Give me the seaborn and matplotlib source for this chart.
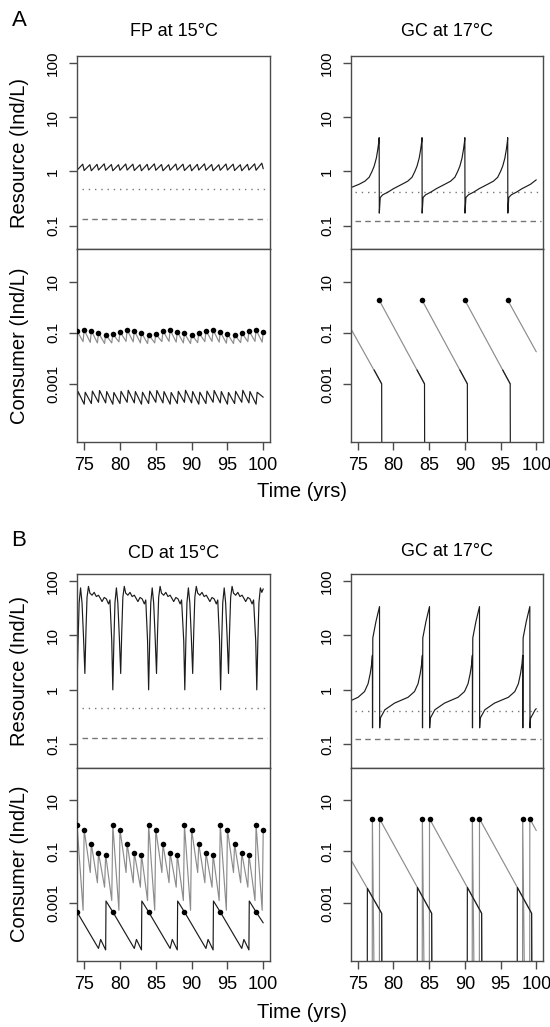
import matplotlib
matplotlib.use("Agg")
import matplotlib.pyplot as plt
from matplotlib.ticker import NullLocator
import pandas as pd
import seaborn as sns

# ======================= DATA =======================
# ---- Panel A, left: FP at 15°C ----
fp_res_t = [74.0, 74.8, 75.0, 75.8, 76.0, 76.8, 77.0, 77.8, 78.0, 78.8, 79.0,
            79.8, 80.0, 80.8, 81.0, 81.8, 82.0, 82.8, 83.0, 83.8, 84.0,
            84.8, 85.0, 85.8, 86.0, 86.8, 87.0, 87.8, 88.0, 88.8, 89.0,
            89.8, 90.0, 90.8, 91.0, 91.8, 92.0, 92.8, 93.0, 93.8, 94.0,
            94.8, 95.0, 95.8, 96.0, 96.8, 97.0, 97.8, 98.0, 98.8, 99.0,
            99.8, 100.0]
fp_res = [1.05, 1.36, 1.04, 1.33, 1.03, 1.35, 1.06, 1.38, 1.05, 1.34, 1.03,
          1.33, 1.05, 1.37, 1.06, 1.36, 1.04, 1.33, 1.03, 1.35, 1.06,
          1.38, 1.05, 1.34, 1.03, 1.33, 1.05, 1.37, 1.06, 1.36, 1.04,
          1.33, 1.03, 1.35, 1.06, 1.38, 1.05, 1.34, 1.03, 1.33, 1.05,
          1.37, 1.06, 1.36, 1.04, 1.33, 1.03, 1.35, 1.06, 1.38, 1.05,
          1.42, 1.12]
fp_dot_t = [74, 75, 76, 77, 78, 79, 80, 81, 82, 83, 84, 85, 86, 87, 88, 89,
            90, 91, 92, 93, 94, 95, 96, 97, 98, 99, 100]
fp_dot = [0.12, 0.13, 0.12, 0.10, 0.085, 0.09, 0.11, 0.13, 0.12, 0.10,
          0.085, 0.09, 0.12, 0.13, 0.11, 0.095, 0.085, 0.10, 0.12, 0.13,
          0.11, 0.09, 0.085, 0.10, 0.12, 0.13, 0.11]
fp_min_t = [74.85, 75.85, 76.85, 77.85, 78.85, 79.85, 80.85, 81.85, 82.85,
            83.85, 84.85, 85.85, 86.85, 87.85, 88.85, 89.85, 90.85, 91.85,
            92.85, 93.85, 94.85, 95.85, 96.85, 97.85, 98.85, 99.85]
fp_min = [0.045, 0.042, 0.040, 0.038, 0.040, 0.044, 0.046, 0.044, 0.040,
          0.038, 0.040, 0.045, 0.046, 0.043, 0.040, 0.038, 0.041, 0.045,
          0.046, 0.043, 0.039, 0.038, 0.041, 0.045, 0.046, 0.043]
fp_blk_t = [74.0, 74.15, 75.0, 75.15, 76.0, 76.15, 77.0, 77.15, 78.0, 78.15,
            79.0, 79.15, 80.0, 80.15, 81.0, 81.15, 82.0, 82.15, 83.0, 83.15,
            84.0, 84.15, 85.0, 85.15, 86.0, 86.15, 87.0, 87.15, 88.0, 88.15,
            89.0, 89.15, 90.0, 90.15, 91.0, 91.15, 92.0, 92.15, 93.0, 93.15,
            94.0, 94.15, 95.0, 95.15, 96.0, 96.15, 97.0, 97.15, 98.0, 98.15,
            99.0, 99.15, 100.0]
fp_blk = [0.00022, 0.00050, 0.00016, 0.00047, 0.00017, 0.00052, 0.00019, 0.00055, 0.00018, 0.00050,
          0.00016, 0.00046, 0.00017, 0.00051, 0.00019, 0.00056, 0.00018, 0.00050, 0.00016, 0.00047,
          0.00017, 0.00052, 0.00019, 0.00055, 0.00018, 0.00050, 0.00016, 0.00046, 0.00017, 0.00051,
          0.00019, 0.00056, 0.00018, 0.00050, 0.00016, 0.00047, 0.00017, 0.00052, 0.00019, 0.00055,
          0.00018, 0.00050, 0.00016, 0.00046, 0.00017, 0.00051, 0.00019, 0.00056, 0.00018, 0.00050,
          0.00016, 0.00047, 0.00030]
fp_thr = [0.47, 0.13]

# ---- Panel A, right: GC at 17°C ----
gcA_res_t = [74.0, 75.2, 76.0, 76.6, 77.0, 77.3, 77.6, 77.8, 77.95, 78.0,
             78.02, 78.15, 78.5, 79.3, 80.0, 81.2, 82.0, 82.6, 83.0, 83.3, 83.6, 83.8, 83.95, 84.0,
             84.02, 84.15, 84.5, 85.3, 86.0, 87.2, 88.0, 88.6, 89.0, 89.3, 89.6, 89.8, 89.95, 90.0,
             90.02, 90.15, 90.5, 91.3, 92.0, 93.2, 94.0, 94.6, 95.0, 95.3, 95.6, 95.8, 95.95, 96.0,
             96.02, 96.15, 96.5, 97.3, 98.0, 99.2, 100.0]
gcA_res = [0.50, 0.58, 0.66, 0.78, 1.0, 1.25, 1.75, 2.5, 3.5, 4.2,
           0.17, 0.33, 0.37, 0.42, 0.48, 0.58, 0.66, 0.78, 1.0, 1.25, 1.75, 2.5, 3.5, 4.2,
           0.17, 0.33, 0.37, 0.42, 0.48, 0.58, 0.66, 0.78, 1.0, 1.25, 1.75, 2.5, 3.5, 4.2,
           0.17, 0.33, 0.37, 0.42, 0.48, 0.58, 0.66, 0.78, 1.0, 1.25, 1.75, 2.5, 3.5, 4.2,
           0.17, 0.33, 0.37, 0.42, 0.48, 0.58, 0.70]
gcA_gray_t = [74.0, 78.35, 78.0, 84.35, 84.0, 90.35, 90.0, 96.35, 96.0, 100.0]
gcA_gray = [0.15, 0.001, 1.9, 0.001, 1.9, 0.001, 1.9, 0.001, 1.9, 0.018]
gcA_gray_seg = [0, 0, 1, 1, 2, 2, 3, 3, 4, 4]
gcA_blk_t = [77.3, 78.35, 78.38, 83.3, 84.35, 84.38, 89.3, 90.35, 90.38, 95.3, 96.35, 96.38]
gcA_blk = [0.0035, 0.001, 1e-7, 0.0035, 0.001, 1e-7, 0.0035, 0.001, 1e-7, 0.0035, 0.001, 1e-7]
gcA_blk_seg = [0, 0, 0, 1, 1, 1, 2, 2, 2, 3, 3, 3]
gcA_dot_t = [78.0, 84.0, 90.0, 96.0]
gcA_dot = [1.9, 1.9, 1.9, 1.9]
gcA_thr = [0.41, 0.123]

# ---- Panel B, left: CD at 15°C ----
cd_res_t = [74.0, 74.15, 74.3, 74.5, 74.7, 74.9, 75.1, 75.25, 75.4, 75.6, 75.8, 76.1, 76.4, 76.7, 77.0, 77.3, 77.5, 77.8, 78.1, 78.4, 78.6, 78.85,
            79.0, 79.15, 79.3, 79.5, 79.7, 79.9, 80.1, 80.25, 80.4, 80.6, 80.8, 81.1, 81.4, 81.7, 82.0, 82.3, 82.5, 82.8, 83.1, 83.4, 83.6, 83.85,
            84.0, 84.15, 84.3, 84.5, 84.7, 84.9, 85.1, 85.25, 85.4, 85.6, 85.8, 86.1, 86.4, 86.7, 87.0, 87.3, 87.5, 87.8, 88.1, 88.4, 88.6, 88.9,
            89.05, 89.2, 89.35, 89.55, 89.75, 89.95, 90.15, 90.3, 90.45, 90.65, 90.85, 91.15, 91.45, 91.75, 92.05, 92.35, 92.55, 92.85, 93.15, 93.45, 93.65, 93.9,
            94.05, 94.2, 94.35, 94.55, 94.75, 94.95, 95.15, 95.3, 95.45, 95.65, 95.85, 96.15, 96.45, 96.75, 97.05, 97.35, 97.55, 97.85, 98.15, 98.45, 98.65, 98.95,
            99.1, 99.25, 99.4, 99.6, 99.8, 100.0]
cd_res = [1.0, 8, 40, 75, 40, 10, 2.0, 12, 50, 80, 60, 55, 62, 52, 55, 47, 42, 50, 47, 38, 45, 8,
          1.0, 8, 40, 75, 40, 10, 2.0, 12, 50, 80, 60, 55, 62, 52, 55, 47, 42, 50, 47, 38, 45, 8,
          1.0, 8, 40, 75, 40, 10, 2.0, 12, 50, 80, 60, 55, 62, 52, 55, 47, 42, 50, 47, 38, 45, 8,
          1.0, 8, 40, 75, 40, 10, 2.0, 12, 50, 80, 60, 55, 62, 52, 55, 47, 42, 50, 47, 38, 45, 8,
          1.0, 8, 40, 75, 40, 10, 2.0, 12, 50, 80, 60, 55, 62, 52, 55, 47, 42, 50, 47, 38, 45, 8,
          1.0, 8, 40, 75, 62, 72]
cd_gray_t = [74.0, 74.85, 75.0, 75.85, 76.0, 76.85, 77.0, 77.85, 78.0, 78.85,
             79.0, 79.85, 80.0, 80.85, 81.0, 81.85, 82.0, 82.85, 83.0, 83.85,
             84.0, 84.85, 85.0, 85.85, 86.0, 86.85, 87.0, 87.85, 88.0, 88.85,
             89.0, 89.85, 90.0, 90.85, 91.0, 91.85, 92.0, 92.85, 93.0, 93.85,
             94.0, 94.85, 95.0, 95.85, 96.0, 96.85, 97.0, 97.85, 98.0, 98.85,
             99.0, 99.85, 100.0]
cd_gray = [1.1, 0.0005, 0.72, 0.015, 0.2, 0.006, 0.089, 0.004, 0.076, 0.0012,
           1.1, 0.0005, 0.72, 0.015, 0.2, 0.006, 0.089, 0.004, 0.076, 0.0012,
           1.1, 0.0005, 0.72, 0.015, 0.2, 0.006, 0.089, 0.004, 0.076, 0.0012,
           1.1, 0.0005, 0.72, 0.015, 0.2, 0.006, 0.089, 0.004, 0.076, 0.0012,
           1.1, 0.0005, 0.72, 0.015, 0.2, 0.006, 0.089, 0.004, 0.076, 0.0012,
           1.1, 0.0005, 0.72]
cd_dot_t = [74, 75, 76, 77, 78, 79, 80, 81, 82, 83, 84, 85, 86, 87, 88, 89,
            90, 91, 92, 93, 94, 95, 96, 97, 98, 99, 100]
cd_dot = [1.1, 0.72, 0.2, 0.089, 0.076, 1.1, 0.72, 0.2, 0.089, 0.076,
          1.1, 0.72, 0.2, 0.089, 0.076, 1.1, 0.72, 0.2, 0.089, 0.076,
          1.1, 0.72, 0.2, 0.089, 0.076, 1.1, 0.72]
cd_blk_t = [74.0, 77.0, 77.3, 78.0, 78.05, 79.0, 82.0, 82.3, 83.0, 83.05, 84.0,
            87.0, 87.3, 88.0, 88.05, 89.0, 92.0, 92.3, 93.0, 93.05, 94.0,
            97.0, 97.3, 98.0, 98.05, 99.0, 100.0]
cd_blk = [0.00043, 1.6e-5, 3.6e-5, 1.4e-5, 0.00115, 0.00043, 1.6e-5, 3.6e-5, 1.4e-5, 0.00115, 0.00043,
          1.6e-5, 3.6e-5, 1.4e-5, 0.00115, 0.00043, 1.6e-5, 3.6e-5, 1.4e-5, 0.00115, 0.00043,
          1.6e-5, 3.6e-5, 1.4e-5, 0.00115, 0.00043, 0.00016]
cd_bdot_t = [74, 79, 84, 89, 94, 99]
cd_bdot = [0.00043, 0.00043, 0.00043, 0.00043, 0.00043, 0.00043]
cd_thr = [0.47, 0.13]

# ---- Panel B, right: GC at 17°C ----
gcB_res_t = [74.0, 75.05, 75.95, 76.45, 76.75, 76.95, 77.05, 77.07, 77.11, 77.55, 78.05,
             78.07, 78.15, 78.8, 80.15, 82.05, 82.95, 83.45, 83.75, 83.95, 84.05, 84.07, 84.11, 84.55, 85.05,
             85.07, 85.15, 85.8, 87.15, 89.05, 89.95, 90.45, 90.75, 90.95, 91.05, 91.07, 91.11, 91.55, 92.05,
             92.07, 92.15, 92.8, 94.15, 96.1, 97.0, 97.5, 97.8, 98.0, 98.1, 98.12, 98.16, 98.6, 99.1,
             99.12, 99.2, 99.85, 100.0]
gcB_res = [0.63, 0.73, 0.93, 1.3, 2.0, 3.0, 4.3, 0.2, 9.0, 18, 34,
           0.2, 0.3, 0.43, 0.57, 0.73, 0.93, 1.3, 2.0, 3.0, 4.3, 0.2, 9.0, 18, 34,
           0.2, 0.3, 0.43, 0.57, 0.73, 0.93, 1.3, 2.0, 3.0, 4.3, 0.2, 9.0, 18, 34,
           0.2, 0.3, 0.43, 0.57, 0.73, 0.93, 1.3, 2.0, 3.0, 4.3, 0.2, 9.0, 18, 34,
           0.2, 0.3, 0.43, 0.45]
gcB_gray_t = [74.0, 78.35, 78.37,
              77.03, 77.05, 77.33,
              78.03, 78.05, 85.35, 85.37,
              84.03, 84.05, 84.33,
              85.03, 85.05, 92.35, 92.37,
              91.03, 91.05, 91.33,
              92.03, 92.05, 99.35, 99.37,
              98.08, 98.1, 98.38,
              99.08, 99.1, 100.0]
gcB_gray = [0.05, 0.00038, 1e-7,
            1e-7, 1.9, 1e-7,
            1e-7, 1.9, 0.00038, 1e-7,
            1e-7, 1.9, 1e-7,
            1e-7, 1.9, 0.00038, 1e-7,
            1e-7, 1.9, 1e-7,
            1e-7, 1.9, 0.00038, 1e-7,
            1e-7, 1.9, 1e-7,
            1e-7, 1.9, 0.66]
gcB_gray_seg = [0, 0, 0, 1, 1, 1, 2, 2, 2, 2, 3, 3, 3, 4, 4, 4, 4,
                5, 5, 5, 6, 6, 6, 6, 7, 7, 7, 8, 8, 8]
gcB_blk_t = [76.33, 76.35, 78.35, 78.4, 83.33, 83.35, 85.35, 85.4,
             90.33, 90.35, 92.35, 92.4, 97.33, 97.35, 99.35, 99.4]
gcB_blk = [1e-7, 0.0036, 0.00038, 1e-7, 1e-7, 0.0039, 0.00038, 1e-7,
           1e-7, 0.0039, 0.00038, 1e-7, 1e-7, 0.0039, 0.00038, 1e-7]
gcB_blk_seg = [0, 0, 0, 0, 1, 1, 1, 1, 2, 2, 2, 2, 3, 3, 3, 3]
gcB_dot_t = [77.05, 78.05, 84.05, 85.05, 91.05, 92.05, 98.1, 99.1]
gcB_dot = [1.9, 1.9, 1.9, 1.9, 1.9, 1.9, 1.9, 1.9]
gcB_thr = [0.41, 0.123]

res_ticks = [0.1, 1, 10, 100]
res_labels = ["0.1", "1", "10", "100"]
con_ticks = [0.001, 0.1, 10]
con_labels = ["0.001", "0.1", "10"]
x_ticks = [75, 80, 85, 90, 95, 100]

# ======================= STYLE =======================
sns.set_style("white")
plt.rcParams["font.family"] = ["Liberation Sans", "DejaVu Sans"]
plt.rcParams["text.color"] = "black"
plt.rcParams["xtick.color"] = "#333333"
plt.rcParams["ytick.color"] = "#333333"
plt.rcParams["xtick.labelcolor"] = "black"
plt.rcParams["ytick.labelcolor"] = "black"

GRAY = "#8c8c8c"
BLACK = "#1c1c1c"
FRAME = "#4a4a4a"
THR = "#777777"

W, H = 550, 1027
fig = plt.figure(figsize=(W / 100, H / 100), dpi=100)


def axes_at(left, top, right, bottom):
    return fig.add_axes([left / W, 1 - bottom / H, (right - left) / W, (bottom - top) / H])


def style(ax, kind, show_x):
    ax.set_yscale("log")
    ax.set_xlim(74, 101)
    if kind == "res":
        ax.set_ylim(0.037, 135)
        ax.set_yticks(res_ticks)
        ax.set_yticklabels(res_labels, rotation=90, va="center", fontsize=11, color="black")
    else:
        ax.set_ylim(5.3e-6, 190)
        ax.set_yticks(con_ticks)
        ax.set_yticklabels(con_labels, rotation=90, va="center", fontsize=11, color="black")
    ax.yaxis.set_minor_locator(NullLocator())
    ax.xaxis.set_minor_locator(NullLocator())
    if show_x:
        ax.set_xticks(x_ticks)
        ax.set_xticklabels([str(v) for v in x_ticks], fontsize=13, color="black")
        ax.tick_params(axis="x", direction="out", length=6, width=1, color=FRAME, pad=5,
                       bottom=True, labelbottom=True)
    else:
        ax.set_xticks([])
    ax.tick_params(axis="y", direction="out", length=6, width=1, color=FRAME, pad=6,
                   left=True, labelleft=True)
    for s in ax.spines.values():
        s.set_visible(True)
        s.set_color(FRAME)
        s.set_linewidth(1.0)


def lines(ax, t, v, seg, color, lw=0.85):
    df = pd.DataFrame({"t": t, "v": v, "seg": seg})
    sns.lineplot(data=df, x="t", y="v", units="seg", estimator=None, sort=False,
                 color=color, linewidth=lw, ax=ax, legend=False)


def dots(ax, t, v):
    sns.scatterplot(x=t, y=v, ax=ax, color="black", s=16, linewidth=0, zorder=5, legend=False)


def thresholds(ax, thr):
    ax.axhline(thr[0], xmin=0.024, xmax=0.985, color=THR, lw=1.0, ls=(0, (1, 3.5)))
    ax.axhline(thr[1], xmin=0.024, xmax=0.985, color=THR, lw=1.0, ls=(0, (4, 3)))


def finish(ax):
    ax.set_xlabel("")
    ax.set_ylabel("")


XL0, XL1 = 77, 270.4
XR0, XR1 = 350.6, 543.4

# ---------- Panel A ----------
axA_lr = axes_at(XL0, 56, XL1, 249)
axA_lc = axes_at(XL0, 249, XL1, 442)
axA_rr = axes_at(XR0, 56, XR1, 249)
axA_rc = axes_at(XR0, 249, XR1, 442)
# ---------- Panel B ----------
axB_lr = axes_at(XL0, 574, XL1, 767.7)
axB_lc = axes_at(XL0, 767.7, XL1, 960.7)
axB_rr = axes_at(XR0, 574, XR1, 767.7)
axB_rc = axes_at(XR0, 767.7, XR1, 960.7)

for ax in (axA_lr, axA_rr, axB_lr, axB_rr):
    style(ax, "res", False)
for ax in (axA_lc, axA_rc, axB_lc, axB_rc):
    style(ax, "con", True)

# A left
thresholds(axA_lr, fp_thr)
lines(axA_lr, fp_res_t, fp_res, [0] * len(fp_res_t), BLACK)
gt, gv = [], []
for i in range(len(fp_min_t)):
    gt += [fp_dot_t[i], fp_min_t[i]]
    gv += [fp_dot[i], fp_min[i]]
gt.append(fp_dot_t[-1]); gv.append(fp_dot[-1])
lines(axA_lc, gt, gv, [0] * len(gt), GRAY)
lines(axA_lc, fp_blk_t, fp_blk, [0] * len(fp_blk_t), BLACK)
dots(axA_lc, fp_dot_t, fp_dot)

# A right
thresholds(axA_rr, gcA_thr)
lines(axA_rr, gcA_res_t, gcA_res, [0] * len(gcA_res_t), BLACK)
lines(axA_rc, gcA_gray_t, gcA_gray, gcA_gray_seg, GRAY)
lines(axA_rc, gcA_blk_t, gcA_blk, gcA_blk_seg, BLACK)
dots(axA_rc, gcA_dot_t, gcA_dot)

# B left
thresholds(axB_lr, cd_thr)
lines(axB_lr, cd_res_t, cd_res, [0] * len(cd_res_t), BLACK)
lines(axB_lc, cd_gray_t, cd_gray, [0] * len(cd_gray_t), GRAY)
lines(axB_lc, cd_blk_t, cd_blk, [0] * len(cd_blk_t), BLACK)
dots(axB_lc, cd_dot_t, cd_dot)
dots(axB_lc, cd_bdot_t, cd_bdot)

# B right
thresholds(axB_rr, gcB_thr)
lines(axB_rr, gcB_res_t, gcB_res, [0] * len(gcB_res_t), BLACK)
lines(axB_rc, gcB_gray_t, gcB_gray, gcB_gray_seg, GRAY)
lines(axB_rc, gcB_blk_t, gcB_blk, gcB_blk_seg, BLACK)
dots(axB_rc, gcB_dot_t, gcB_dot)

for ax in (axA_lr, axA_lc, axA_rr, axA_rc, axB_lr, axB_lc, axB_rr, axB_rc):
    finish(ax)
    ax.set_xlim(74, 101)

# ---------- texts ----------
def ftext(x, y, s, **kw):
    fig.text(x / W, 1 - y / H, s, ha="center", va="center", color="black", **kw)

ftext(19, 20, "A", fontsize=16)
ftext(19, 540, "B", fontsize=16)
ftext((XL0 + XL1) / 2, 31, "FP at 15°C", fontsize=13)
ftext((XR0 + XR1) / 2, 31, "GC at 17°C", fontsize=13)
ftext((XL0 + XL1) / 2, 553, "CD at 15°C", fontsize=13)
ftext((XR0 + XR1) / 2, 551, "GC at 17°C", fontsize=13)
ftext(20, 152.5, "Resource (Ind/L)", fontsize=14.5, rotation=90)
ftext(20, 345.5, "Consumer (Ind/L)", fontsize=14.5, rotation=90)
ftext(20, 671, "Resource (Ind/L)", fontsize=14.5, rotation=90)
ftext(20, 864, "Consumer (Ind/L)", fontsize=14.5, rotation=90)
ftext(302, 492, "Time (yrs)", fontsize=14.5)
ftext(302, 1012, "Time (yrs)", fontsize=14.5)

fig.savefig("out.png", dpi=100, facecolor="white")
